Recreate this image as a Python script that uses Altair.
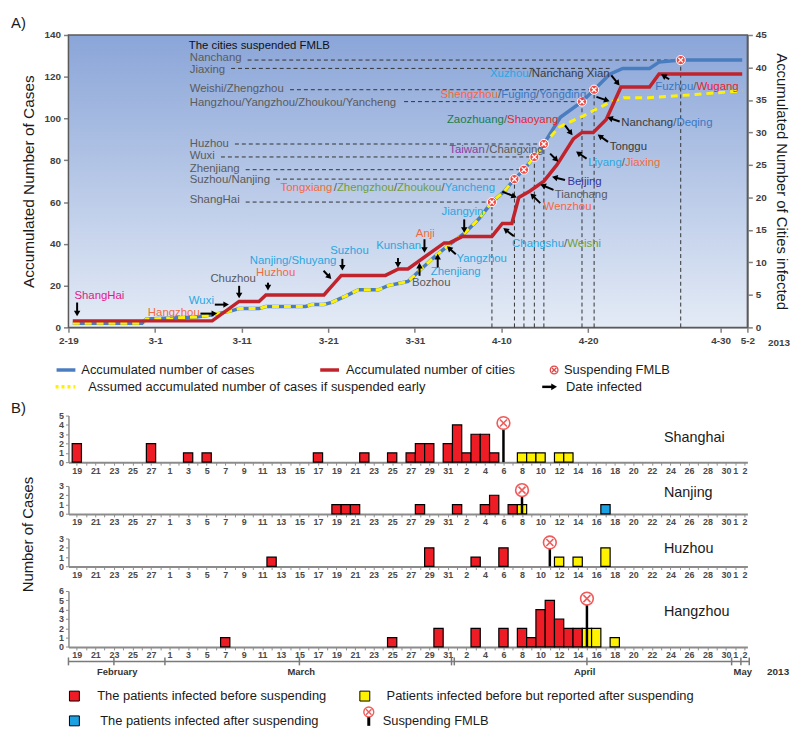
import json
import math
import datetime
import altair as alt
import pandas as pd

FONT = "Liberation Sans"

# ---------------- Panel A values ----------------
A_TICK_DAYS = [0, 10, 20, 30, 40, 50, 60, 75.3, 78.4]
A_TICK_LABELS = ["2-19", "3-1", "3-11", "3-21", "3-31", "4-10", "4-20", "4-30", "5-2"]
A_LEFT_TICKS = [0, 20, 40, 60, 80, 100, 120, 140]
A_RIGHT_TICKS = [0, 5, 10, 15, 20, 25, 30, 35, 40, 45]

# accumulated number of cases (blue), day index from Feb 19
CASE_DAY = [0.5, 8.5, 9.0, 14.8, 16.6, 18.9, 19.7, 22.0, 22.8, 27.4,
            28.1, 29.5, 30.4, 32.0, 33.5, 35.8, 36.9, 38.1, 39.2, 40.5,
            41.8, 42.6, 43.8, 45.7, 47.4, 48.9, 50.3, 51.5, 52.6, 53.8,
            54.9, 56.8, 59.3, 60.7, 62.5, 64.0, 67.1, 68.2, 70.7, 72.4, 77.8]
CASE_VAL = [2, 2, 4, 5, 6, 8, 9, 9, 10, 10,
            11, 11, 12, 15, 18, 18, 20, 21, 22, 27,
            32, 35, 39, 45, 52, 60, 65, 71, 75.5, 81.6,
            87.8, 100.6, 108.1, 113.8, 121.2, 124, 124, 127, 128, 128, 128]
SHARED_POINTS = 31  # assumed curve equals the real curve up to here
ASSUMED_TAIL_DAY = [56.7, 59.5, 61.0, 62.5, 64.1, 67.0, 72.4, 77.8]
ASSUMED_TAIL_VAL = [96, 101.4, 104.6, 107.7, 110, 110, 111.5, 113.3]

# accumulated number of cities (red, right axis)
CITY_DAY = [0.5, 16.6, 19.7, 22.0, 22.8, 29.5, 31.5, 36.6, 38.1, 39.2,
            43.4, 44.0, 45.5, 48.9, 50.1, 51.2, 52.0, 53.3, 54.9, 56.4,
            58.3, 59.3, 60.6, 62.1, 63.8, 67.1, 68.2, 77.8]
CITY_VAL = [1, 1, 4, 4, 5, 5, 8, 8, 9, 9,
            13, 13, 14, 14, 16, 16, 20, 21, 22.5, 25,
            29, 30, 30, 32, 37, 37, 39, 39]

# cities that suspended FMLB
SUSP_LABEL = ["ShangHai", "Suzhou/Nanjing", "Zhenjiang", "Wuxi", "Huzhou",
              "Hangzhou/Yangzhou/Zhoukou/Yancheng", "Weishi/Zhengzhou", "Jiaxing", "Nanchang"]
SUSP_DAY = [48.9, 51.5, 52.6, 53.8, 54.9, 59.3, 60.7, 62.5, 70.7]
SUSP_VAL = [60, 71, 75.5, 81.6, 87.8, 108.1, 113.8, 124, 128]
SUSP_LABEL_VAL = [60.8, 70.7, 75.9, 82.1, 87.8, 107.3, 113.9, 123.4, 129.1]
SUSP_HAS_MARK = [True, True, True, True, True, True, True, False, True]

MAG, ORG, LBL, GRY = "#e2188c", "#f26a3d", "#2aa7e0", "#5a5a5a"
GRN, DGR, RDT, BLU = "#6f9e3a", "#16804a", "#e5252b", "#3b78c2"
PUR, DBL, DGY = "#8e3c9c", "#34349a", "#3a3a3a"

# city labels on the curves: (day, cases, [(text, colour), ...])
ANNOTATIONS = [
    (0.69, 15.2, [("ShangHai", MAG)]),
    (9.17, 6.9, [("Hangzhou", ORG)]),
    (13.9, 12.4, [("Wuxi", LBL)]),
    (16.39, 23.1, [("Chuzhou", GRY)]),
    (21.66, 26.2, [("Huzhou", ORG)]),
    (20.94, 31.7, [("Nanjing/Shuyang", LBL)]),
    (30.22, 36.6, [("Suzhou", LBL)]),
    (35.53, 38.9, [("Kunshan", LBL)]),
    (40.11, 44.5, [("Anji", ORG)]),
    (39.66, 21.0, [("Bozhou", GRY)]),
    (41.83, 26.7, [("Zhenjiang", LBL)]),
    (44.81, 32.6, [("Yangzhou", LBL)]),
    (43.09, 55.2, [("Jiangyin", LBL)]),
    (51.23, 40.0, [("Changshu", LBL), ("/", GRY), ("Weishi", GRN)]),
    (54.87, 57.4, [("Wenzhou", ORG)]),
    (56.16, 63.5, [("Tianchang", GRY)]),
    (57.62, 69.8, [("Beijing", DBL)]),
    (24.49, 66.6, [("Tongxiang", ORG), ("/", GRY), ("Zhengzhou", GRN), ("/", GRY),
                   ("Zhoukou", GRN), ("/", GRY), ("Yancheng", LBL)]),
    (43.98, 84.8, [("Taiwan", PUR), ("/", GRY), ("Changxing", GRY)]),
    (43.70, 99.5, [("Zaozhuang", DGR), ("/", GRY), ("Shaoyang", RDT)]),
    (42.95, 111.4, [("Shengzhou", ORG), ("/", GRY), ("Fuging", BLU), ("/", GRY), ("Yongding", BLU)]),
    (48.68, 121.5, [("Xuzhou", LBL), ("/", GRY), ("Nanchang Xian", DGY)]),
    (67.77, 114.9, [("Fuzhou", BLU), ("/", GRY), ("Wugang", RDT)]),
    (63.84, 97.9, [("Nanchang", DGY), ("/", GRY), ("Deqing", BLU)]),
    (62.50, 86.4, [("Tonggu", DGY)]),
    (60.02, 78.9, [("Liyang", LBL), ("/", GRY), ("Jiaxing", ORG)]),
]

# "date infected" arrows: (day1, cases1, day2, cases2), tail -> tip
ARROWS = [
    (1.0, 11.9, 1.0, 5.2), (15.24, 6.6, 17.19, 6.6), (16.9, 10.9, 18.55, 10.9),
    (19.71, 19.9, 19.71, 13.8), (23.04, 21.4, 23.04, 17.6), (29.46, 27.1, 30.37, 23.1),
    (31.63, 32.8, 31.63, 27.1), (38.05, 33.2, 38.05, 28.5), (41.11, 42.2, 41.11, 35.6),
    (40.54, 24.7, 40.54, 31.0), (42.64, 28.6, 42.64, 35.3), (44.73, 35.0, 43.70, 38.9),
    (45.70, 51.7, 45.70, 45.2), (51.43, 43.7, 50.20, 47.6), (54.48, 59.5, 53.33, 64.2),
    (56.01, 65.8, 54.48, 68.5), (57.34, 70.6, 55.82, 72.1), (50.09, 65.0, 51.80, 62.2),
    (55.62, 83.2, 56.58, 79.3), (57.34, 96.7, 58.22, 91.9), (60.97, 110.4, 62.50, 108.2),
    (62.69, 120.7, 63.65, 115.7), (69.37, 118.8, 68.42, 121.2), (63.65, 98.6, 62.20, 100.6),
    (62.31, 88.8, 61.09, 92.4), (59.83, 80.8, 58.60, 84.3),
]

# ---------------- Panel B values ----------------
# day index from Feb 19, count, kind: r = before suspending, y = reported after, b = after
SH_DAY = [0, 8, 12, 14, 26, 31, 34, 36, 37, 38, 40, 41, 42, 43, 44, 45, 48, 49, 50, 52, 53]
SH_N = [2, 2, 1, 1, 1, 1, 1, 1, 2, 2, 2, 4, 1, 3, 3, 1, 1, 1, 1, 1, 1]
SH_K = ["r"] * 16 + ["y"] * 5
NJ_DAY = [28, 29, 30, 37, 41, 44, 45, 47, 48, 57]
NJ_N = [1, 1, 1, 1, 1, 1, 2, 1, 1, 1]
NJ_K = ["r"] * 8 + ["y", "b"]
HZ_DAY = [21, 38, 43, 46, 52, 54, 57]
HZ_N = [1, 2, 1, 2, 1, 1, 2]
HZ_K = ["r"] * 4 + ["y"] * 3
HG_DAY = [16, 34, 39, 43, 46, 48, 49, 50, 51, 52, 53, 54, 55, 56, 58]
HG_N = [1, 1, 2, 2, 2, 2, 1, 4, 5, 3, 2, 2, 2, 2, 1]
HG_K = ["r"] * 12 + ["y"] * 3
# suspension day, stick top, circle centre
SUSP_B = {"Shanghai": (46, 3.5, 4.2), "Nanjing": (48, 1.9, 2.55),
          "Huzhou": (51, 1.9, 2.57), "Hangzhou": (55, 4.5, 5.19)}
MONTH_NAMES = ["February", "March", "April", "May"]
MONTH_POS = [4.36, 24.2, 54.75, 71.8]
MONTH_TICKS = [-0.9, 4, 9.5, 24, 40.4, 40.7, 55, 70.6, 71.6, 72.5]
B_START = datetime.date(2013, 2, 19)
B_TICK_DAYS = list(range(0, 73))
B_TICK_LABELS = [str((B_START + datetime.timedelta(days=d)).day) if (d % 2 == 0 or d > 70) else ""
                 for d in B_TICK_DAYS]

# ---------------- helpers ----------------
W = 685
H_A = 295
A_DOM = [0, 78.4]
B_DOM = [-0.9, 72.3]
PXD_A = W / (A_DOM[1] - A_DOM[0])
PYC_A = H_A / 140.0
FS_ANN = 11.5
BLUE, RED, YEL = "#4a7dbf", "#c0232b", "#fff200"
XPATH = "M-1,-1L1,1M-1,1L1,-1"
one = pd.DataFrame({"k": [0]})

CW = {' ': 278, '/': 278, 'A': 667, 'B': 667, 'C': 722, 'D': 722, 'E': 667, 'F': 611, 'G': 778,
      'H': 722, 'I': 278, 'J': 500, 'K': 667, 'L': 556, 'M': 833, 'N': 722, 'O': 778, 'P': 667,
      'Q': 778, 'R': 722, 'S': 667, 'T': 611, 'U': 722, 'V': 667, 'W': 944, 'X': 667, 'Y': 667,
      'Z': 611, 'a': 556, 'b': 556, 'c': 500, 'd': 556, 'e': 556, 'f': 278, 'g': 556, 'h': 556,
      'i': 222, 'j': 222, 'k': 500, 'l': 222, 'm': 833, 'n': 556, 'o': 556, 'p': 556, 'q': 556,
      'r': 333, 's': 500, 't': 278, 'u': 556, 'v': 500, 'w': 722, 'x': 500, 'y': 500, 'z': 500}


def tw(s, size):
    return sum(CW.get(c, 556) for c in s) * size / 1000.0


def vtext(txt, x, y, size=13.0, color="#1a1a1a", align="left", weight="normal", angle=0):
    return alt.Chart(one).mark_text(text=txt, align=align, baseline="middle", fontSize=size,
                                    font=FONT, color=color, fontWeight=weight, angle=angle
                                    ).encode(x=alt.value(x), y=alt.value(y))


def vrule(x1, x2, y1, y2, color="black", width=2.0, dash=None):
    kw = dict(color=color, strokeWidth=width)
    if dash:
        kw["strokeDash"] = dash
    return alt.Chart(one).mark_rule(**kw).encode(x=alt.value(x1), x2=alt.value(x2),
                                                 y=alt.value(y1), y2=alt.value(y2))


def vpoint(x, y, shape, size, fill=None, stroke=None, sw=1.0, angle=0):
    kw = dict(shape=shape, size=size, opacity=1, strokeWidth=sw, angle=angle)
    if fill:
        kw["filled"] = True
        kw["fill"] = fill
    else:
        kw["filled"] = False
        kw["fill"] = "transparent"
    if stroke:
        kw["stroke"] = stroke
    return alt.Chart(one).mark_point(**kw).encode(x=alt.value(x), y=alt.value(y))


# ---------------- Panel A ----------------
xsA = alt.Scale(domain=A_DOM, nice=False, zero=False)
ysA = alt.Scale(domain=[0, 140], nice=False, zero=True)
ysC = alt.Scale(domain=[0, 45], nice=False, zero=True)

ax_common = dict(grid=False, labelFontSize=10, labelFontWeight="bold", labelColor="#3f3f3f",
                 labelFont=FONT, tickSize=5, tickColor="#808080", tickWidth=1.5,
                 domainColor="#808080", domainWidth=2, labelPadding=3)
axA_x = alt.Axis(values=A_TICK_DAYS, title=None, labelOverlap=False, labelFlush=False,
                 labelExpr=f"{json.dumps(A_TICK_LABELS)}[indexof({json.dumps(A_TICK_DAYS)}, datum.value)]",
                 **ax_common)
axA_y = alt.Axis(values=A_LEFT_TICKS, title="Accumulated Number of Cases", titleFontSize=15.5,
                 titleFontWeight="normal", titleColor="#1a1a1a", titleFont=FONT, titlePadding=8,
                 **ax_common)
axA_r = alt.Axis(values=A_RIGHT_TICKS, orient="right", title="Accumulated Number of Cities infected",
                 titleFontSize=15, titleFontWeight="normal", titleColor="#1a1a1a", titleFont=FONT,
                 titlePadding=7, **ax_common)

cases_df = pd.DataFrame({"day": CASE_DAY, "val": CASE_VAL})
assumed_df = pd.DataFrame({"day": CASE_DAY[:SHARED_POINTS] + ASSUMED_TAIL_DAY,
                           "val": CASE_VAL[:SHARED_POINTS] + ASSUMED_TAIL_VAL})
city_df = pd.DataFrame({"day": CITY_DAY, "val": CITY_VAL})

susp_df = pd.DataFrame({"label": SUSP_LABEL, "day": SUSP_DAY, "val": SUSP_VAL,
                        "lval": SUSP_LABEL_VAL, "mark": SUSP_HAS_MARK})
susp_df["lday"] = 14.0
susp_df["x1"] = [14.0 + (tw(s, FS_ANN) + 6) / PXD_A for s in SUSP_LABEL]
susp_df["z"] = 0.0
mark_df = susp_df[susp_df["mark"]]

ann_rows = []
for d0, v0, parts in ANNOTATIONS:
    off = 0.0
    for txt, col in parts:
        ann_rows.append({"day": d0 + off / PXD_A, "val": v0, "txt": txt, "col": col})
        off += tw(txt, FS_ANN)
ann_df = pd.DataFrame(ann_rows)

arr_rows = []
for x1, y1, x2, y2 in ARROWS:
    sx = (x2 - x1) * PXD_A
    sy = -(y2 - y1) * PYC_A
    L = math.hypot(sx, sy)
    ux, uy = sx / L, sy / L
    hx = x2 - 3.0 * ux / PXD_A
    hy = y2 + 3.0 * uy / PYC_A
    ang = math.degrees(math.atan2(ux, -uy)) % 360
    arr_rows.append({"x1": x1, "y1": y1, "hx": hx, "hy": hy, "ang": ang})
arr_df = pd.DataFrame(arr_rows)


def XA(field):
    return alt.X(field, scale=xsA, axis=None)


def YA(field):
    return alt.Y(field, scale=ysA, axis=None)


bg = alt.Chart(one).mark_rect(
    fill=alt.LinearGradient(gradient="linear", x1=0, x2=0, y1=0, y2=1,
                            stops=[alt.GradientStop(color="#8aa5d8", offset=0),
                                   alt.GradientStop(color="#e4ebf6", offset=1)]),
    stroke="#5a5a5a", strokeWidth=1.5
).encode(x=alt.value(0), x2=alt.value(W), y=alt.value(0), y2=alt.value(H_A))

vdash = alt.Chart(mark_df).mark_rule(color="#333333", strokeWidth=1, strokeDash=[4, 3]).encode(
    x=XA("day:Q"), y=YA("z:Q"), y2="val:Q")
hdash = alt.Chart(susp_df).mark_rule(color="#333333", strokeWidth=1, strokeDash=[4, 3]).encode(
    x=XA("x1:Q"), x2="day:Q", y=YA("val:Q"))
blue = alt.Chart(cases_df).mark_line(color=BLUE, strokeWidth=3.5).encode(
    x=alt.X("day:Q", scale=xsA, axis=axA_x), y=alt.Y("val:Q", scale=ysA, axis=axA_y))
yellow = alt.Chart(assumed_df).mark_line(color=YEL, strokeWidth=3, strokeDash=[7, 5]).encode(
    x=XA("day:Q"), y=YA("val:Q"))
red = alt.Chart(city_df).mark_line(color=RED, strokeWidth=3.5).encode(
    x=XA("day:Q"), y=alt.Y("val:Q", scale=ysC, axis=axA_r))
arrows = alt.Chart(arr_df).mark_rule(color="black", strokeWidth=2).encode(
    x=XA("x1:Q"), y=YA("y1:Q"), x2="hx:Q", y2="hy:Q")
heads = alt.Chart(arr_df).mark_point(shape="triangle-up", filled=True, color="black", size=42,
                                     opacity=1).encode(
    x=XA("hx:Q"), y=YA("hy:Q"), angle=alt.Angle("ang:Q", scale=None))
marks = alt.Chart(mark_df).mark_point(shape="circle", filled=True, fill="#ee4a44", stroke="white",
                                      strokeWidth=1, size=85, opacity=1).encode(
    x=XA("day:Q"), y=YA("val:Q"))
marksx = alt.Chart(mark_df).mark_point(shape=XPATH, filled=False, stroke="white", strokeWidth=1.4,
                                       size=22, opacity=1).encode(x=XA("day:Q"), y=YA("val:Q"))
ann = alt.Chart(ann_df).mark_text(align="left", baseline="middle", fontSize=FS_ANN, font=FONT).encode(
    x=XA("day:Q"), y=YA("val:Q"), text="txt:N", color=alt.Color("col:N", scale=None))
left_labels = alt.Chart(susp_df).mark_text(align="left", baseline="middle", fontSize=FS_ANN, font=FONT,
                                           color="#5b5b5b").encode(
    x=XA("lday:Q"), y=YA("lval:Q"), text="label:N")
head_title = alt.Chart(pd.DataFrame({"day": [13.9], "val": [134.8]})).mark_text(
    text="The cities suspended FMLB", align="left", baseline="middle", fontSize=FS_ANN, font=FONT,
    color="#111111").encode(x=XA("day:Q"), y=YA("val:Q"))

panelA = alt.layer(
    bg, vdash, hdash, blue, yellow, red, arrows, heads, marks, marksx, ann, left_labels, head_title,
    vtext("A)", -58, -12, size=15),
    vtext("2013", 717, H_A + 16, size=10, weight="bold", color="#3f3f3f", align="center"),
).resolve_scale(x="independent", y="independent").properties(width=W, height=H_A)

# ---------------- Legend A ----------------
legendA = alt.layer(
    vrule(-12, 7, 19, 19, color=BLUE, width=3.5),
    vtext("Accumulated number of cases", 13, 19),
    vrule(254, 273, 19, 19, color=RED, width=3.5),
    vtext("Accumulated number of  cities", 280, 19),
    vpoint(490, 19, "circle", 60, fill="white", stroke="#e04848", sw=1.3),
    vpoint(490, 19, XPATH, 22, stroke="#e04848", sw=1.3),
    vtext("Suspending FMLB", 500, 19),
    vrule(-13, 7, 36, 36, color=YEL, width=3.5, dash=[3, 3]),
    vtext("Assumed  accumulated number of cases if suspended early", 20, 36),
    vrule(478, 489, 36, 36, color="black", width=2.5),
    vpoint(490, 36, "triangle-right", 45, fill="black"),
    vtext("Date infected", 502, 36),
).properties(width=W, height=41)

# ---------------- Panel B ----------------
xsB = alt.Scale(domain=B_DOM, nice=False, zero=False)
axB_x = alt.Axis(values=B_TICK_DAYS, title=None, grid=False, labelOverlap=False, labelFlush=False,
                 labelExpr=f"{json.dumps(B_TICK_LABELS)}[datum.value]",
                 labelFontSize=9, labelFontWeight="bold", labelColor="#4a4a4a", labelFont=FONT,
                 tickSize=3, tickColor="#8c8c8c", tickWidth=1, domainColor="#8c8c8c", domainWidth=2,
                 labelPadding=1)
KIND_COLOR = {"r": "#ee1c25", "y": "#fff200", "b": "#1ba1e2"}


def b_panel(name, days, ns, kinds, ymax, h, label_val, extra=()):
    df = pd.DataFrame({"day": days, "n": ns, "kind": kinds})
    df["col"] = [KIND_COLOR[k] for k in kinds]
    ys = alt.Scale(domain=[0, ymax], nice=False, zero=True)
    axy = alt.Axis(values=list(range(0, ymax + 1)), title=None, grid=False, labelFontSize=9,
                   labelFontWeight="bold", labelColor="#4a4a4a", labelFont=FONT, tickSize=3,
                   tickColor="#8c8c8c", domainColor="#8c8c8c", domainWidth=1.5, labelPadding=2)
    bars = alt.Chart(df).transform_calculate(
        x0="datum.day - 0.5", x1="datum.day + 0.5", z="0"
    ).mark_rect(stroke="black", strokeWidth=1.2).encode(
        x=alt.X("x0:Q", scale=xsB, axis=axB_x), x2="x1:Q",
        y=alt.Y("z:Q", scale=ys, axis=axy), y2="n:Q",
        color=alt.Color("col:N", scale=None))
    sday, stop, cy = SUSP_B[name]
    sdf = pd.DataFrame({"day": [sday], "z": [0.0], "top": [stop], "cy": [cy]})
    stick = alt.Chart(sdf).mark_rule(color="black", strokeWidth=2.5).encode(
        x=alt.X("day:Q", scale=xsB, axis=None), y=alt.Y("z:Q", scale=ys, axis=None), y2="top:Q")
    circ = alt.Chart(sdf).mark_point(shape="circle", filled=True, fill="white", stroke="#f05a5a",
                                     strokeWidth=1.6, size=165, opacity=1).encode(
        x=alt.X("day:Q", scale=xsB, axis=None), y=alt.Y("cy:Q", scale=ys, axis=None))
    cx = alt.Chart(sdf).mark_point(shape=XPATH, filled=False, stroke="#f05a5a", strokeWidth=1.6,
                                   size=50, opacity=1).encode(
        x=alt.X("day:Q", scale=xsB, axis=None), y=alt.Y("cy:Q", scale=ys, axis=None))
    lab = alt.Chart(pd.DataFrame({"day": [63.3], "v": [label_val], "t": [name]})).mark_text(
        align="left", baseline="middle", fontSize=14.5, font=FONT, color="#1a1a1a").encode(
        x=alt.X("day:Q", scale=xsB, axis=None), y=alt.Y("v:Q", scale=ys, axis=None), text="t:N")
    return alt.layer(bars, stick, circ, cx, lab, *extra).resolve_scale(
        x="independent", y="independent").properties(width=W, height=h)


sh = b_panel("Shanghai", SH_DAY, SH_N, SH_K, 5, 47, 2.63, extra=[vtext("B)", -58, -8, size=15)])
nj = b_panel("Nanjing", NJ_DAY, NJ_N, NJ_K, 3, 28.2, 2.2)
hz = b_panel("Huzhou", HZ_DAY, HZ_N, HZ_K, 3, 28.2, 1.85,
             extra=[vtext("Number of Cases", -41, -4, size=15, align="center", angle=270)])
hg = b_panel("Hangzhou", HG_DAY, HG_N, HG_K, 6, 56.4, 3.75)

# ---------------- month axis + legend B ----------------
mline = alt.Chart(pd.DataFrame({"a": [B_DOM[0]], "b": [72.5]})).mark_rule(
    color="#7a7a7a", strokeWidth=1.5).encode(x=alt.X("a:Q", scale=xsB, axis=None), x2="b:Q",
                                            y=alt.value(-10))
mticks = alt.Chart(pd.DataFrame({"d": MONTH_TICKS})).mark_rule(color="#7a7a7a", strokeWidth=1.5).encode(
    x=alt.X("d:Q", scale=xsB, axis=None), y=alt.value(-14), y2=alt.value(-6))
mtext = alt.Chart(pd.DataFrame({"d": MONTH_POS, "m": MONTH_NAMES})).mark_text(
    baseline="middle", align="center", fontSize=9.5, fontWeight="bold", font=FONT, color="#333333"
).encode(x=alt.X("d:Q", scale=xsB, axis=None), y=alt.value(1), text="m:N")

bottom = alt.layer(
    mline, mticks, mtext,
    vtext("2013", 716, 1, size=10, weight="bold", color="#333333", align="center"),
    vpoint(6, 25, "square", 100, fill="#ee1c25", stroke="black", sw=1),
    vtext("The patients infected before suspending", 29, 25),
    vpoint(299, 25, "square", 100, fill="#fff200", stroke="black", sw=1),
    vtext("Patients infected before but reported after suspending", 321, 25),
    vpoint(6, 50, "square", 100, fill="#1ba1e2", stroke="black", sw=1),
    vtext("The patients infected after suspending", 32, 50),
    vrule(303, 303, 46, 55, color="black", width=3),
    vpoint(303, 41, "circle", 100, fill="white", stroke="#f05a5a", sw=1.4),
    vpoint(303, 41, XPATH, 30, stroke="#f05a5a", sw=1.4),
    vtext("Suspending FMLB", 317, 50),
).properties(width=W, height=56)

chart = alt.vconcat(panelA, legendA, sh, nj, hz, hg, bottom, spacing=24, bounds="flush").properties(
    padding={"left": 2, "top": 4, "right": 0, "bottom": 0}
).configure(font=FONT).configure_view(stroke="transparent")

chart.save("out.html", embed_options={"renderer": "svg", "actions": False})
